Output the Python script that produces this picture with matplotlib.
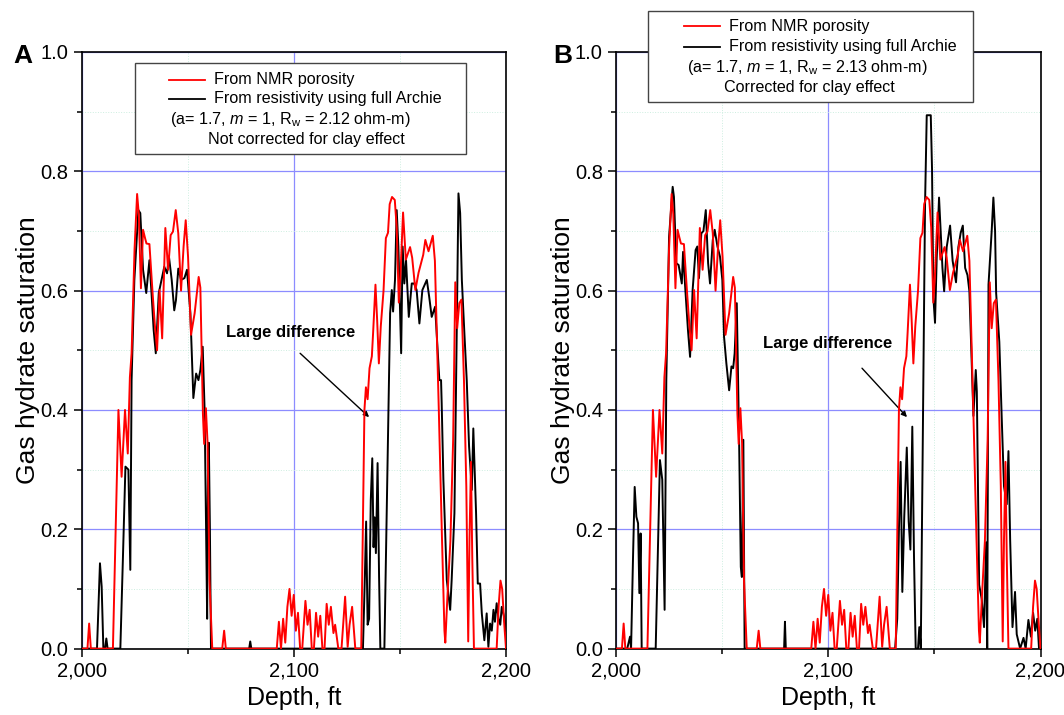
import matplotlib
matplotlib.use("Agg")
import matplotlib.pyplot as plt
from matplotlib.lines import Line2D
from matplotlib.patches import Rectangle
from matplotlib.ticker import MultipleLocator, FuncFormatter

plt.rcParams['font.family'] = ['Liberation Sans', 'DejaVu Sans']
plt.rcParams['mathtext.fontset'] = 'custom'
plt.rcParams['mathtext.rm'] = 'Liberation Sans'
plt.rcParams['mathtext.it'] = 'Liberation Sans:italic'

# ---------------- data ----------------
# NMR-porosity based saturation (same in both panels)
depth_nmr = [2000.0, 2002.8, 2003.6, 2004.4, 2014.8, 2017.4, 2018.9, 2020.5, 2021.8, 2022.8,
             2023.6, 2025.0, 2026.2, 2027.0, 2028.0, 2029.0, 2029.8, 2030.6, 2032.0, 2033.4,
             2034.5, 2035.6, 2036.8, 2038.0, 2039.5, 2040.8, 2042.0, 2043.1, 2044.4, 2045.6,
             2046.9, 2048.1, 2049.1, 2050.2, 2051.6, 2053.3, 2055.2, 2056.0, 2057.2, 2057.8,
             2058.6, 2059.4, 2060.3, 2061.6, 2066.3, 2067.2, 2068.0,
             2092.0, 2093.0, 2094.0, 2095.0, 2096.0, 2097.0, 2098.0, 2099.0, 2100.0, 2101.0,
             2102.0, 2103.0, 2104.0, 2105.5, 2106.5, 2107.5, 2108.5, 2109.5, 2110.5, 2111.5,
             2112.5, 2113.5, 2114.5, 2115.5, 2116.5, 2117.5, 2118.7, 2119.5,
             2121.0, 2122.5, 2124.2, 2125.4, 2126.3, 2127.5, 2129.0,
             2131.8, 2132.6, 2133.3, 2134.0, 2134.8, 2135.7, 2136.8, 2137.4, 2138.5, 2139.3,
             2140.1, 2141.0, 2142.3, 2143.4, 2144.4, 2145.2, 2146.3, 2147.6, 2148.5, 2149.5,
             2150.2, 2151.5, 2152.8, 2154.8, 2155.8, 2157.3, 2158.8, 2161.0, 2162.0, 2163.5,
             2165.5, 2166.5, 2168.4, 2169.8, 2171.0, 2171.4, 2172.3, 2173.8, 2175.1, 2176.1,
             2177.0, 2178.0, 2179.0, 2180.2, 2181.3, 2182.2, 2182.8, 2183.5, 2184.1, 2184.9,
             2195.6, 2196.5, 2197.4, 2198.2, 2199.2, 2200.0]
sat_nmr = [0.0, 0.0, 0.042, 0.0, 0.0, 0.40, 0.288, 0.40, 0.327, 0.455,
           0.495, 0.67, 0.762, 0.728, 0.604, 0.702, 0.69, 0.679, 0.678, 0.601,
           0.545, 0.50, 0.601, 0.52, 0.705, 0.635, 0.693, 0.699, 0.735, 0.696,
           0.60, 0.674, 0.718, 0.657, 0.526, 0.562, 0.623, 0.605, 0.394, 0.343,
           0.403, 0.344, 0.115, 0.0, 0.0, 0.03, 0.0,
           0.0, 0.045, 0.0, 0.05, 0.01, 0.07, 0.10, 0.055, 0.09, 0.03,
           0.06, 0.0, 0.0, 0.08, 0.04, 0.065, 0.0, 0.0, 0.06, 0.02,
           0.055, 0.0, 0.0, 0.075, 0.04, 0.07, 0.026, 0.04,
           0.0, 0.0, 0.087, 0.003, 0.04, 0.07, 0.0,
           0.0, 0.22, 0.40, 0.438, 0.418, 0.47, 0.49, 0.53, 0.61, 0.55,
           0.478, 0.54, 0.60, 0.688, 0.697, 0.745, 0.757, 0.752, 0.706, 0.58,
           0.62, 0.731, 0.652, 0.673, 0.655, 0.601, 0.63, 0.66, 0.685, 0.666,
           0.692, 0.65, 0.392, 0.19, 0.03, 0.01, 0.08, 0.18, 0.35, 0.614,
           0.537, 0.579, 0.585, 0.449, 0.272, 0.012, 0.183, 0.313, 0.154, 0.0,
           0.0, 0.07, 0.114, 0.10, 0.04, 0.0]

# Resistivity (full Archie), not corrected for clay (panel A)
depth_res_a = [2000.0, 2007.3, 2008.7, 2009.5, 2010.3, 2011.1, 2011.7, 2012.3, 2018.3, 2019.5,
               2020.7, 2022.1, 2023.0, 2023.6, 2024.9, 2026.8, 2027.7, 2029.0, 2030.5, 2032.0,
               2032.9, 2034.0, 2035.0, 2036.4, 2038.0, 2039.0, 2040.3, 2041.2, 2042.5, 2043.7,
               2044.5, 2045.6, 2046.9, 2048.5, 2049.7, 2051.3, 2052.7, 2054.0, 2055.1, 2056.0,
               2057.1, 2058.0, 2058.7, 2059.2, 2059.6, 2060.0, 2060.5, 2061.0, 2079.0, 2079.5,
               2080.0, 2132.6, 2133.5, 2134.1, 2134.8, 2135.5, 2136.3, 2137.0, 2137.6, 2138.1,
               2138.7, 2139.5, 2140.2, 2140.8, 2142.7, 2145.4, 2146.2, 2146.8, 2147.7, 2148.5,
               2149.3, 2150.6, 2151.3, 2152.1, 2152.9, 2154.2, 2155.6, 2156.7, 2157.9, 2159.2,
               2160.6, 2162.7, 2163.8, 2165.0, 2166.6, 2167.8, 2168.6, 2169.4, 2169.7, 2170.5,
               2172.1, 2173.7, 2174.4, 2175.7, 2176.8, 2177.6, 2178.4, 2179.2, 2180.4, 2181.5,
               2182.6, 2183.9, 2184.6, 2185.9, 2186.7, 2187.8, 2188.6, 2189.8, 2190.9, 2191.7,
               2192.5, 2193.3, 2194.1, 2194.8, 2195.6, 2196.5, 2197.3, 2198.0, 2199.0, 2200.0]
sat_res_a = [0.0, 0.0, 0.143, 0.104, 0.0, 0.0, 0.017, 0.0, 0.0, 0.15,
             0.305, 0.30, 0.132, 0.45, 0.618, 0.735, 0.73, 0.635, 0.596, 0.651,
             0.601, 0.534, 0.495, 0.596, 0.623, 0.640, 0.629, 0.657, 0.618, 0.567,
             0.584, 0.637, 0.618, 0.621, 0.635, 0.562, 0.420, 0.461, 0.450, 0.467,
             0.506, 0.40, 0.20, 0.05, 0.30, 0.345, 0.20, 0.0, 0.0, 0.012,
             0.0, 0.0, 0.12, 0.213, 0.04, 0.05, 0.25, 0.319, 0.17, 0.22,
             0.16, 0.311, 0.12, 0.0, 0.0, 0.562, 0.601, 0.565, 0.618, 0.735,
             0.674, 0.495, 0.674, 0.612, 0.651, 0.556, 0.612, 0.612, 0.601, 0.545,
             0.601, 0.618, 0.59, 0.556, 0.573, 0.50, 0.45, 0.45, 0.411, 0.283,
             0.115, 0.065, 0.115, 0.227, 0.534, 0.763, 0.73, 0.618, 0.528, 0.45,
             0.339, 0.266, 0.369, 0.227, 0.109, 0.109, 0.059, 0.014, 0.059, 0.003,
             0.042, 0.03, 0.065, 0.045, 0.076, 0.05, 0.04, 0.07, 0.055, 0.03]

# Resistivity (full Archie), corrected for clay (panel B)
depth_res_b = [2000.0, 2005.3, 2006.6, 2007.1, 2008.0, 2008.8, 2009.6, 2010.4, 2011.0, 2011.6,
               2012.1, 2018.7, 2020.7, 2021.8, 2022.9, 2023.7, 2025.0, 2026.7, 2027.3, 2028.4,
               2029.5, 2031.0, 2031.6, 2032.7, 2033.9, 2034.9, 2036.1, 2037.5, 2038.3, 2039.1,
               2040.2, 2041.2, 2042.3, 2043.4, 2044.3, 2045.6, 2046.5, 2047.8, 2049.0, 2050.1,
               2050.9, 2052.0, 2053.3, 2054.4, 2055.2, 2055.9, 2056.9, 2058.0, 2058.8, 2059.3,
               2060.0, 2060.6, 2079.2, 2079.6, 2080.0, 2131.5, 2132.5, 2133.3, 2134.1, 2134.9,
               2135.8, 2137.0, 2137.9, 2138.7, 2139.6, 2140.4, 2141.2, 2142.3, 2142.9, 2143.6,
               2145.6, 2146.4, 2148.3, 2148.9, 2149.5, 2150.3, 2151.1, 2152.2, 2153.0, 2153.8,
               2154.6, 2155.8, 2157.4, 2158.6, 2160.2, 2161.3, 2162.4, 2163.4, 2164.5, 2165.6,
               2166.5, 2168.4, 2169.5, 2170.0, 2171.1, 2172.3, 2173.4, 2174.4, 2174.9, 2175.5,
               2177.0, 2177.8, 2178.6, 2179.1, 2180.6, 2181.7, 2182.8, 2184.1, 2184.9, 2185.7,
               2186.8, 2188.0, 2188.8, 2190.4, 2192.0, 2193.0, 2194.3, 2195.5, 2196.5, 2197.5,
               2198.5, 2199.3, 2200.0]
sat_res_b = [0.0, 0.0, 0.02, 0.0, 0.15, 0.271, 0.221, 0.21, 0.093, 0.193,
             0.0, 0.0, 0.316, 0.283, 0.065, 0.45, 0.69, 0.774, 0.757, 0.646,
             0.643, 0.612, 0.665, 0.60, 0.534, 0.489, 0.601, 0.668, 0.674, 0.621,
             0.696, 0.70, 0.735, 0.646, 0.612, 0.685, 0.702, 0.674, 0.657, 0.618,
             0.523, 0.478, 0.433, 0.473, 0.47, 0.495, 0.579, 0.350, 0.137, 0.12,
             0.350, 0.0, 0.0, 0.045, 0.0, 0.0, 0.05, 0.20, 0.313, 0.095,
             0.22, 0.337, 0.213, 0.166, 0.372, 0.154, 0.0, 0.0, 0.036, 0.0,
             0.744, 0.894, 0.894, 0.803, 0.59, 0.546, 0.655, 0.756, 0.697, 0.638,
             0.599, 0.673, 0.709, 0.65, 0.614, 0.673, 0.697, 0.709, 0.638, 0.626,
             0.599, 0.39, 0.467, 0.431, 0.107, 0.083, 0.036, 0.178, 0.0, 0.61,
             0.70, 0.756, 0.70, 0.596, 0.514, 0.39, 0.272, 0.242, 0.331, 0.183,
             0.036, 0.095, 0.024, 0.0, 0.018, 0.0, 0.048, 0.02, 0.06, 0.03,
             0.05, 0.0, 0.0]

x_ticks = [2000, 2100, 2200]
y_ticks = [0.0, 0.2, 0.4, 0.6, 0.8, 1.0]
legend_labels = ["From NMR porosity", "From resistivity using full Archie"]
params_a = r"(a= 1.7, $\mathit{m}$ = 1, R$_\mathregular{w}$ = 2.12 ohm-m)"
params_b = r"(a= 1.7, $\mathit{m}$ = 1, R$_\mathregular{w}$ = 2.13 ohm-m)"
note_a = "Not corrected for clay effect"
note_b = "Corrected for clay effect"

# ---------------- figure ----------------
W, H = 1064, 715
fig = plt.figure(figsize=(W / 100, H / 100), dpi=100)


def fx(px):
    return px / W


def fy(py):
    return 1 - py / H


def setup(ax):
    ax.set_xlim(2000, 2200)
    ax.set_ylim(0, 1.0)
    ax.set_xticks(x_ticks)
    ax.set_yticks(y_ticks)
    ax.xaxis.set_minor_locator(MultipleLocator(50))
    ax.yaxis.set_minor_locator(MultipleLocator(0.1))
    ax.xaxis.set_major_formatter(FuncFormatter(lambda v, p: f"{int(v):,}"))
    ax.yaxis.set_major_formatter(FuncFormatter(lambda v, p: f"{v:.1f}"))
    ax.tick_params(which='both', direction='out', top=False, right=False,
                   labelsize=14.5, width=1.1)
    ax.tick_params(which='major', length=6)
    ax.tick_params(which='minor', length=3.5)
    ax.grid(which='major', color='#8c8cff', lw=0.9)
    ax.grid(which='minor', color='#cdeee0', lw=0.7, ls=':')
    ax.set_axisbelow(True)
    for s in ax.spines.values():
        s.set_linewidth(1.2)
    ax.set_xlabel("Depth, ft", fontsize=18, va='center')
    ax.set_ylabel("Gas hydrate saturation", fontsize=19, va='center')
    ax.xaxis.set_label_coords(0.5, -0.082)
    ax.yaxis.set_label_coords(-0.125, 0.5)


def legend_box(x0, x1, y0, y1, lx0, lx1, tx, rows_y, cx3, cx4, params, note):
    fig.add_artist(Rectangle((fx(x0), fy(y1)), fx(x1) - fx(x0), fy(y0) - fy(y1),
                             transform=fig.transFigure, facecolor='white',
                             edgecolor='#444444', lw=1.0, zorder=10))
    for yy, col, lab in zip(rows_y[:2], ['#ff0000', '#000000'], legend_labels):
        fig.add_artist(Line2D([fx(lx0), fx(lx1)], [fy(yy), fy(yy)], color=col, lw=1.3,
                              transform=fig.transFigure, zorder=11))
        fig.text(fx(tx), fy(yy), lab, fontsize=11.6, ha='left', va='center', zorder=12)
    fig.text(fx(cx3), fy(rows_y[2]), params, fontsize=11.6, ha='center', va='center', zorder=12)
    fig.text(fx(cx4), fy(rows_y[3]), note, fontsize=11.6, ha='center', va='center', zorder=12)


ax_a = fig.add_axes([fx(81.5), fy(648.6), 424.5 / W, 596.6 / H])
ax_b = fig.add_axes([fx(616), fy(648.6), 424.5 / W, 596.6 / H])

for ax, d_res, s_res in [(ax_a, depth_res_a, sat_res_a), (ax_b, depth_res_b, sat_res_b)]:
    setup(ax)
    ax.plot(d_res, s_res, color='black', lw=1.4, zorder=3)
    ax.plot(depth_nmr, sat_nmr, color='#ff0000', lw=1.4, zorder=4)

arrow_style = dict(arrowstyle='-|>', color='black', lw=1.0, mutation_scale=8,
                   shrinkA=0, shrinkB=0)
ax_a.annotate("", xy=(2135.5, 0.388), xytext=(2103.0, 0.495), arrowprops=arrow_style)
ax_a.text(2098.7, 0.529, "Large difference", fontsize=12, fontweight='bold',
          ha='center', va='center')
ax_b.annotate("", xy=(2137.1, 0.388), xytext=(2115.9, 0.470), arrowprops=arrow_style)
ax_b.text(2099.9, 0.511, "Large difference", fontsize=12, fontweight='bold',
          ha='center', va='center')

fig.text(fx(22.8), fy(56), "A", fontsize=19, fontweight='bold', ha='center', va='center')
fig.text(fx(563), fy(56), "B", fontsize=19, fontweight='bold', ha='center', va='center')

legend_box(135, 466, 63.5, 153.5, 169, 204.5, 214, [79.5, 99, 119.7, 139.6], 290.7, 306.8,
           params_a, note_a)
legend_box(648, 973, 11, 101.5, 684, 720, 729, [26.2, 46.7, 67.1, 87.9], 807, 809,
           params_b, note_b)

fig.savefig("out.png", dpi=100)
